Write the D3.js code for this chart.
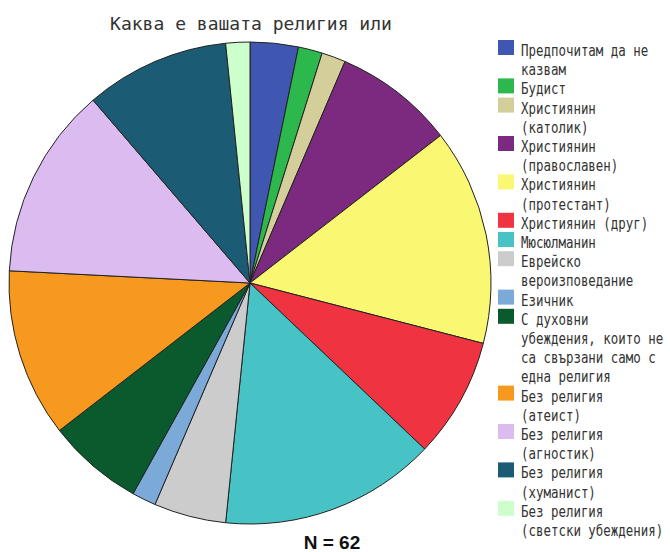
<!DOCTYPE html>
<html>
<head>
  <meta charset="utf-8">
  <script src="https://cdn.jsdelivr.net/npm/d3@7"></script>
  <style>
    body { margin: 0; background: #fff; }
    svg { display: block; }
  </style>
</head>
<body>
  <svg width="670" height="552"></svg>
  <script>
    // answers, in the order they go round the pie
    var categories = [
      "Предпочитам да не казвам",
      "Будист",
      "Християнин (католик)",
      "Християнин (православен)",
      "Християнин (протестант)",
      "Християнин (друг)",
      "Мюсюлманин",
      "Еврейско вероизповедание",
      "Езичник",
      "С духовни убеждения, които не са свързани само с една религия",
      "Без религия (атеист)",
      "Без религия (агностик)",
      "Без религия (хуманист)",
      "Без религия (светски убеждения)"
    ];
    var counts = [2, 1, 1, 5, 9, 5, 9, 3, 1, 4, 7, 8, 6, 1];
    var colours = ["#3f57b0", "#2db84d", "#d4ce9b", "#7b2a7f", "#faf872", "#ef3340", "#47c3c6",
                   "#cccccc", "#7ba9d8", "#0b5a2e", "#f7991e", "#dcbbf0", "#1b5b73", "#ccffcc"];
    // legend lines, wrapped as in the picture
    var legendLines = [
      ["Предпочитам да не", "казвам"],
      ["Будист"],
      ["Християнин", "(католик)"],
      ["Християнин", "(православен)"],
      ["Християнин", "(протестант)"],
      ["Християнин (друг)"],
      ["Мюсюлманин"],
      ["Еврейско", "вероизповедание"],
      ["Езичник"],
      ["С духовни", "убеждения, които не", "са свързани само с", "една религия"],
      ["Без религия", "(атеист)"],
      ["Без религия", "(агностик)"],
      ["Без религия", "(хуманист)"],
      ["Без религия", "(светски убеждения)"]
    ];
    var total = d3.sum(counts);

    var svg = d3.select("svg");
    var cx = 250, cy = 283, radius = 241;

    var colour = d3.scaleOrdinal().domain(categories).range(colours);

    var pie = d3.pie().sort(null).value(function(d, i) { return counts[i]; });
    var arc = d3.arc().innerRadius(0).outerRadius(radius);

    svg.append("g")
      .attr("transform", "translate(" + cx + "," + cy + ")")
      .selectAll("path")
      .data(pie(categories))
      .enter()
      .append("path")
      .attr("d", arc)
      .attr("fill", function(d) { return colour(d.data); })
      .attr("stroke", "#222")
      .attr("stroke-width", 1);

    // title
    svg.append("text")
      .attr("x", 251).attr("y", 30)
      .attr("text-anchor", "middle")
      .attr("font-family", "DejaVu Sans Mono")
      .attr("font-size", "18px")
      .attr("fill", "#333")
      .text("Каква е вашата религия или");

    // N label
    svg.append("text")
      .attr("x", 332).attr("y", 549)
      .attr("text-anchor", "middle")
      .attr("font-family", "Liberation Sans, Arial")
      .attr("font-weight", "bold")
      .attr("font-size", "19px")
      .attr("fill", "#111")
      .text("N = " + total);

    // legend
    var lineH = 19.2, firstBase = 56;
    var legend = svg.append("g");
    var row = 0;
    legendLines.forEach(function(lines, i) {
      var base = firstBase + row * lineH;
      legend.append("rect")
        .attr("x", 498).attr("y", base - 16)
        .attr("width", 16).attr("height", 15)
        .attr("fill", colour(categories[i]));
      lines.forEach(function(t, j) {
        legend.append("text")
          .attr("transform", "translate(521," + (base + j * lineH) + ") scale(0.83,1)")
          .attr("font-family", "DejaVu Sans Mono")
          .attr("font-size", "15px")
          .attr("fill", "#333")
          .text(t);
      });
      row += lines.length;
    });
  </script>
</body>
</html>
